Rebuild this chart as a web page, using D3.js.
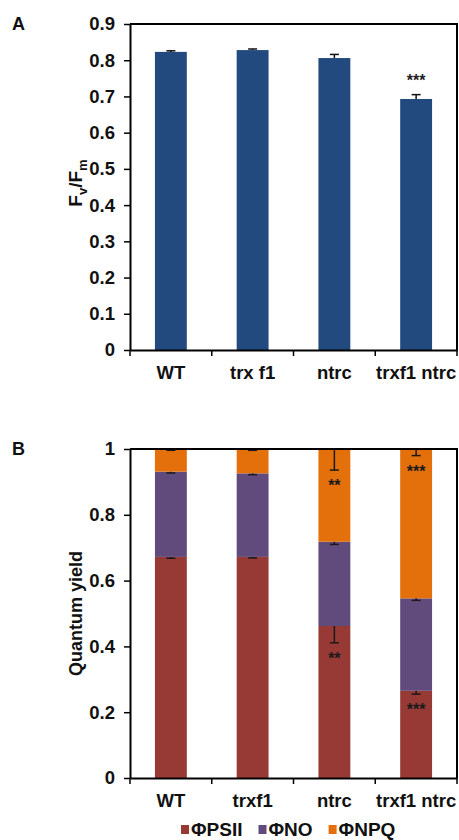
<!DOCTYPE html>
<html>
<head>
<meta charset="utf-8">
<script src="https://cdn.jsdelivr.net/npm/d3@7"></script>
<style>
  html, body { margin: 0; padding: 0; background: #fff; }
  svg { display: block; font-family: "Liberation Sans", Arial, sans-serif; }
</style>
</head>
<body>
<svg id="chart" width="459" height="840"></svg>
<script>
// Panel A: maximum PSII efficiency
const catsA = ["WT", "trx f1", "ntrc", "trxf1 ntrc"];
const fvfm = [0.823, 0.828, 0.806, 0.693];
const fvfmErr = [0.003, 0.003, 0.010, 0.012];
const sigA = ["", "", "", "***"];
const ticksA = [0, 0.1, 0.2, 0.3, 0.4, 0.5, 0.6, 0.7, 0.8, 0.9];

// Panel B: partitioning of absorbed light energy
const catsB = ["WT", "trxf1", "ntrc", "trxf1 ntrc"];
const phiPSII = [0.672, 0.672, 0.462, 0.265];
const phiNO = [0.259, 0.254, 0.256, 0.281];
const phiNPQ = [0.069, 0.074, 0.282, 0.454];
const errPSII = [0.004, 0.003, 0.051, 0.010];
const errNO = [0.004, 0.004, 0.008, 0.006];
const errNPQ = [0.004, 0.004, 0.064, 0.020];
const sigPSII = ["", "", "**", "***"];
const sigNPQ = ["", "", "**", "***"];
const seriesNames = ["ΦPSII", "ΦNO", "ΦNPQ"];
const ticksB = [0, 0.2, 0.4, 0.6, 0.8, 1];

const colorBlue = "#224a7e";
const seriesColors = ["#973a36", "#614a7c", "#e4700c"];

const svg = d3.select("#chart");
const left = 130, right = 457;

function frame(g, x, y, top, bottom, ticks, fmt) {
  // y axis
  const ya = g.append("g").attr("transform", `translate(${left},0)`)
    .call(d3.axisLeft(y).tickValues(ticks).tickFormat(fmt).tickSize(6).tickSizeOuter(0).tickPadding(9));
  ya.select(".domain").attr("stroke", "#000").attr("stroke-width", 2);
  ya.selectAll(".tick line").attr("stroke", "#000").attr("stroke-width", 1.5);
  ya.selectAll(".tick text").attr("font-size", 18.5).attr("font-weight", "bold")
    .attr("font-family", "Liberation Sans, Arial, sans-serif").attr("fill", "#111");

  // x axis with ticks between categories
  const xa = g.append("g").attr("transform", `translate(0,${bottom})`)
    .call(d3.axisBottom(x).tickSize(0).tickSizeOuter(0).tickPadding(16));
  xa.select(".domain").attr("stroke", "#000").attr("stroke-width", 2);
  xa.selectAll(".tick text").attr("font-size", 18.5).attr("font-weight", "bold")
    .attr("font-family", "Liberation Sans, Arial, sans-serif").attr("fill", "#111");
  const step = x.step();
  const bounds = d3.range(x.domain().length + 1).map(i => x.range()[0] + i * step);
  g.append("g").selectAll("line").data(bounds).join("line")
    .attr("x1", d => d).attr("x2", d => d)
    .attr("y1", bottom).attr("y2", bottom + 6)
    .attr("stroke", "#000").attr("stroke-width", 1.5);

  // closing frame: top and right edges
  g.append("path")
    .attr("d", `M${left},${top}H${right}V${bottom}`)
    .attr("fill", "none").attr("stroke", "#000").attr("stroke-width", 2);
}

// ---------- Panel A ----------
{
  const top = 24, bottom = 350;
  const g = svg.append("g");
  const x = d3.scaleBand().domain(catsA).range([left, right]).paddingInner(0.61).paddingOuter(0.305);
  const y = d3.scaleLinear().domain([0, 0.9]).range([bottom, top]);

  g.append("g").selectAll("rect").data(catsA).join("rect")
    .attr("x", d => x(d)).attr("width", x.bandwidth())
    .attr("y", (d, i) => y(fvfm[i])).attr("height", (d, i) => bottom - y(fvfm[i]))
    .attr("fill", colorBlue);

  // error bars (upper)
  const eb = g.append("g").attr("stroke", "#111").attr("stroke-width", 1.5);
  catsA.forEach((c, i) => {
    const cx = x(c) + x.bandwidth() / 2;
    eb.append("line").attr("x1", cx).attr("x2", cx).attr("y1", y(fvfm[i])).attr("y2", y(fvfm[i] + fvfmErr[i]));
    eb.append("line").attr("x1", cx - 4.5).attr("x2", cx + 4.5).attr("y1", y(fvfm[i] + fvfmErr[i])).attr("y2", y(fvfm[i] + fvfmErr[i]));
  });

  g.append("g").selectAll("text").data(catsA).join("text")
    .attr("x", d => x(d) + x.bandwidth() / 2)
    .attr("y", (d, i) => y(fvfm[i] + fvfmErr[i]) - 9)
    .attr("text-anchor", "middle").attr("font-size", 16).attr("font-weight", "bold").attr("fill", "#222")
    .text((d, i) => sigA[i]);

  frame(g, x, y, top, bottom, ticksA, d => d === 0 ? "0" : d3.format(".1f")(d));

  // y label: Fv/Fm
  const lab = g.append("text")
    .attr("transform", `translate(82,${(top + bottom) / 2 - 4}) rotate(-90)`)
    .attr("text-anchor", "middle").attr("font-size", 19).attr("font-weight", "bold").attr("fill", "#111");
  lab.append("tspan").text("F");
  lab.append("tspan").attr("dy", 5).attr("font-size", 13).text("v");
  lab.append("tspan").attr("dy", -5).text("/F");
  lab.append("tspan").attr("dy", 5).attr("font-size", 13).text("m");

  g.append("text").attr("x", 12).attr("y", 30).attr("font-size", 18).attr("font-weight", "bold").attr("fill", "#111").text("A");
}

// ---------- Panel B ----------
{
  const top = 449, bottom = 778;
  const g = svg.append("g");
  const x = d3.scaleBand().domain(catsB).range([left, right]).paddingInner(0.61).paddingOuter(0.305);
  const y = d3.scaleLinear().domain([0, 1]).range([bottom, top]);

  const rows = catsB.map((c, i) => ({ cat: c, s0: phiPSII[i], s1: phiNO[i], s2: phiNPQ[i] }));
  const stacked = d3.stack().keys(["s0", "s1", "s2"])(rows);
  const errs = [errPSII, errNO, errNPQ];

  stacked.forEach((layer, k) => {
    g.append("g").selectAll("rect").data(layer).join("rect")
      .attr("x", d => x(d.data.cat)).attr("width", x.bandwidth())
      .attr("y", d => y(d[1])).attr("height", d => y(d[0]) - y(d[1]))
      .attr("fill", seriesColors[k]);
  });

  // error bars (lower) drawn down from each segment top
  const eb = g.append("g").attr("stroke", "#1a1a1a").attr("stroke-width", 1.5);
  stacked.forEach((layer, k) => {
    layer.forEach((d, i) => {
      const cx = x(d.data.cat) + x.bandwidth() / 2;
      const yTop = y(d[1]), yLow = y(d[1] - errs[k][i]);
      eb.append("line").attr("x1", cx).attr("x2", cx).attr("y1", yTop).attr("y2", yLow);
      eb.append("line").attr("x1", cx - 4.5).attr("x2", cx + 4.5).attr("y1", yLow).attr("y2", yLow);
    });
  });

  // significance marks under error bars
  const sigs = [[sigPSII, 0], [sigNPQ, 2]];
  sigs.forEach(([marks, k]) => {
    g.append("g").selectAll("text").data(stacked[k]).join("text")
      .attr("x", d => x(d.data.cat) + x.bandwidth() / 2)
      .attr("y", (d, i) => y(d[1] - errs[k][i]) + 21)
      .attr("text-anchor", "middle").attr("font-size", 16).attr("font-weight", "bold").attr("fill", "#1a1a1a")
      .text((d, i) => marks[i]);
  });

  frame(g, x, y, top, bottom, ticksB, d => d === 0 || d === 1 ? String(d) : d3.format(".1f")(d));

  g.append("text")
    .attr("transform", `translate(82,${(top + bottom) / 2}) rotate(-90)`)
    .attr("text-anchor", "middle").attr("font-size", 18).attr("font-weight", "bold").attr("fill", "#111")
    .text("Quantum yield");

  g.append("text").attr("x", 12).attr("y", 455).attr("font-size", 18).attr("font-weight", "bold").attr("fill", "#111").text("B");

  // legend
  const leg = g.append("g").attr("transform", "translate(0,836)");
  let lx = 181;
  seriesNames.forEach((name, k) => {
    leg.append("rect").attr("x", lx).attr("y", -11).attr("width", 8).attr("height", 9).attr("fill", seriesColors[k]);
    const t = leg.append("text").attr("x", lx + 10).attr("y", 0)
      .attr("font-size", 19).attr("font-weight", "bold").attr("fill", "#111").text(name);
    lx += 10 + t.node().getComputedTextLength() + 16;
  });
}
</script>
</body>
</html>
